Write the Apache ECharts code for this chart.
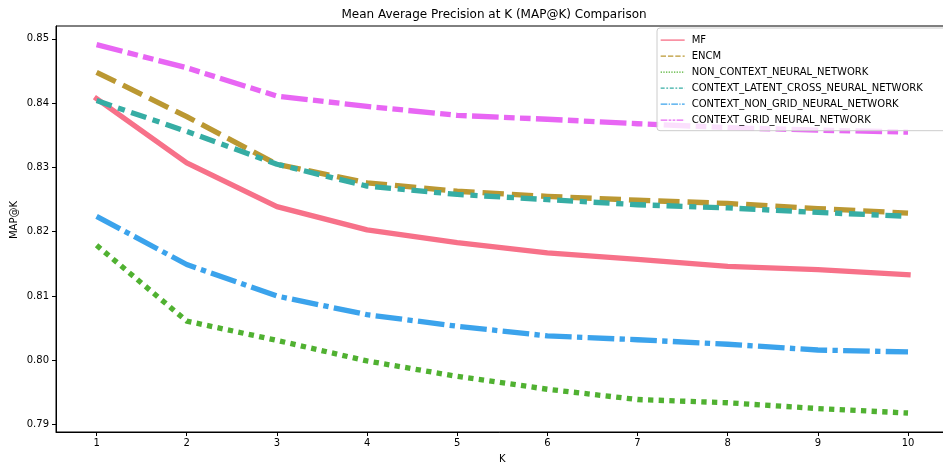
<!DOCTYPE html>
<html><head><meta charset="utf-8">
<script src="https://cdn.jsdelivr.net/npm/echarts@6/dist/echarts.min.js"></script>
<style>html,body{margin:0;padding:0;background:#fff}#c{width:943px;height:464px}</style>
</head><body><div id="c"></div>
<script>
// ---- data ----
const kValues = [1, 2, 3, 4, 5, 6, 7, 8, 9, 10];
const yTicks = [0.79, 0.80, 0.81, 0.82, 0.83, 0.84, 0.85];
const seriesNames = ['MF', 'ENCM', 'NON_CONTEXT_NEURAL_NETWORK', 'CONTEXT_LATENT_CROSS_NEURAL_NETWORK', 'CONTEXT_NON_GRID_NEURAL_NETWORK', 'CONTEXT_GRID_NEURAL_NETWORK'];
const mf          = [0.8407, 0.8307, 0.8239, 0.8203, 0.8183, 0.8167, 0.8157, 0.8146, 0.8141, 0.8133];
const encm        = [0.8448, 0.8379, 0.8305, 0.8276, 0.8263, 0.8255, 0.8249, 0.8244, 0.8236, 0.8229];
const nonContext  = [0.8179, 0.8061, 0.8031, 0.7999, 0.7975, 0.7955, 0.7939, 0.7934, 0.7925, 0.7918];
const latentCross = [0.8404, 0.8356, 0.8305, 0.8271, 0.8258, 0.8250, 0.8242, 0.8237, 0.8230, 0.8224];
const nonGrid     = [0.8224, 0.8149, 0.8100, 0.8071, 0.8053, 0.8038, 0.8032, 0.8025, 0.8016, 0.8013];
const gridNN      = [0.8491, 0.8455, 0.8411, 0.8395, 0.8381, 0.8375, 0.8368, 0.8362, 0.8358, 0.8355];
const allValues = [mf, encm, nonContext, latentCross, nonGrid, gridNN];

// ---- style ----
const colors = ['#f77189', '#bb9832', '#50b131', '#36ada4', '#3ba3ec', '#e866f4'];
const LW = 5.33, LLW = 1.33;
const dashUnits = [null, [4, 1.5], [1, 1], [3, 1.25, 1.35, 1.25], [5, 1, 1, 1], [5, 1, 2, 1, 2, 1]];
const scaleDash = (d, w) => d ? d.map(x => x * w) : 'solid';
const FONT = 'DejaVu Sans';

const chart = echarts.init(document.getElementById('c'), null, {renderer: 'canvas'});
chart.setOption({
  animation: false,
  backgroundColor: '#fff',
  textStyle: {fontFamily: FONT},
  grid: {left: 56, right: -5.6, top: 26, bottom: 32, outerBoundsMode: 'none', containLabel: false,
         show: true, borderColor: '#000', borderWidth: 1, backgroundColor: 'transparent'},
  graphic: [{
    type: 'text', x: 494, y: 15,
    style: {text: 'Mean Average Precision at K (MAP@K) Comparison', font: '12px "DejaVu Sans"', fill: '#000', textAlign: 'center', textVerticalAlign: 'middle'}
  }, {
    type: 'text', x: 14, y: 220, rotation: Math.PI / 2,
    style: {text: 'MAP@K', font: '10px "DejaVu Sans"', fill: '#000', textAlign: 'center', textVerticalAlign: 'middle'}
  }],
  legend: {
    orient: 'vertical', left: 657, top: 28, padding: [6.5, 30, 5, 3],
    itemWidth: 24, itemHeight: 14, itemGap: 4.8,
    backgroundColor: 'rgba(255,255,255,0.8)', borderColor: '#cccccc', borderWidth: 1, borderRadius: 3,
    textStyle: {fontFamily: FONT, fontSize: 10, color: '#000', padding: [0, 0, 0, 2]},
    data: seriesNames.map((n, i) => ({
      name: n,
      itemStyle: {opacity: 0},
      lineStyle: {width: LLW, type: scaleDash(dashUnits[i], LLW), cap: 'butt'}
    }))
  },
  xAxis: {
    type: 'value', min: 0.55, max: 10.45,
    axisLine: {lineStyle: {color: '#000', width: 1}},
    axisTick: {customValues: kValues, length: 4, lineStyle: {color: '#000', width: 1}},
    axisLabel: {customValues: kValues, fontSize: 10, color: '#000', margin: 6, fontFamily: FONT},
    splitLine: {show: false},
    name: 'K', nameLocation: 'middle', nameGap: 22,
    nameTextStyle: {fontSize: 10, color: '#000', fontFamily: FONT}
  },
  yAxis: {
    type: 'value', min: 0.78885, max: 0.8520,
    axisLine: {show: true, lineStyle: {color: '#000', width: 1}},
    axisTick: {show: true, customValues: yTicks, length: 4, lineStyle: {color: '#000', width: 1}},
    axisLabel: {customValues: yTicks, fontSize: 10, color: '#000', margin: 7, fontFamily: FONT, formatter: v => v.toFixed(2)},
    splitLine: {show: false}
  },
  series: seriesNames.map((n, i) => ({
    name: n, type: 'line', symbol: 'none', showSymbol: false,
    data: kValues.map((k, j) => [k, allValues[i][j]]),
    itemStyle: {color: colors[i]},
    lineStyle: {color: colors[i], width: LW, type: scaleDash(dashUnits[i], LW), cap: i === 0 ? 'square' : 'butt', join: 'round'}
  }))
});
</script>
</body></html>
